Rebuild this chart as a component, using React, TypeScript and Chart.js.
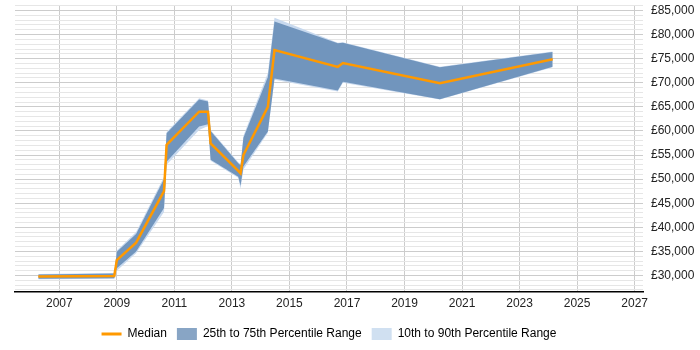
import { useEffect, useRef } from 'react';
import { Chart, registerables } from 'chart.js';

Chart.register(...registerables);

// Sample dates (decimal years) and salary percentiles at each date
const years = [2006.27, 2008.91, 2009.0, 2009.67, 2010.64, 2010.73, 2011.86, 2012.17, 2012.26, 2013.22, 2013.3, 2013.4, 2014.25, 2014.48, 2016.68, 2016.86, 2020.23, 2024.15];
const median = [29800, 29900, 33200, 36800, 47500, 57100, 64000, 64000, 57400, 51700, 51200, 55000, 65000, 76800, 73300, 74100, 69900, 74900];
const p75 = [30200, 30400, 34900, 38600, 50000, 59500, 66500, 66100, 60000, 53300, 52900, 58600, 71200, 82700, 78200, 78300, 73200, 76400];
const p25 = [29300, 29400, 31500, 35000, 44000, 53600, 60900, 61400, 54000, 50500, 48600, 52600, 59900, 70900, 68400, 70200, 66600, 73300];
const p90 = [30300, 30500, 35200, 39000, 50500, 59800, 66800, 66300, 60200, 53500, 53100, 59000, 72000, 83500, 78300, 78400, 73300, 76500];
const p10 = [29200, 29300, 31000, 34600, 43200, 53000, 60200, 61000, 53800, 50300, 48000, 52000, 59600, 70600, 68200, 70000, 66500, 73200];

const xTickYears = [2007, 2009, 2011, 2013, 2015, 2017, 2019, 2021, 2023, 2025, 2027];
const yGridValues = Array.from({ length: 60 }, (_, i) => 27000 + i * 1000);

const FONT = 'Arial, "Liberation Sans", sans-serif';
const MEDIAN_COLOR = '#ff9900';
const IQR_COLOR = '#7195bd';
const IQR_LEGEND = '#88a5c5';
const DECILE_COLOR = '#c8d9ee';
const DECILE_LEGEND = '#d0e0f1';

const points = (values: number[]) => values.map((v, i) => ({ x: years[i], y: v }));

const formatPounds = (v: number) => '£' + String(v).replace(/\B(?=(\d{3})+(?!\d))/g, ',');

// Centre the legend under the plot area rather than the whole canvas
const legendUnderPlot = {
  id: 'legendUnderPlot',
  afterLayout(chart: any) {
    if (chart.legend) {
      chart.legend.left = chart.chartArea.left;
      chart.legend.right = chart.chartArea.right;
    }
  },
};

export default function App() {
  const canvasRef = useRef<HTMLCanvasElement>(null);

  useEffect(() => {
    const canvas = canvasRef.current;
    if (!canvas) return;
    const band = { pointRadius: 0, borderWidth: 0, borderColor: 'transparent', tension: 0 };
    const chart = new Chart(canvas, {
      type: 'line',
      data: {
        datasets: [
          {
            label: 'Median',
            data: points(median),
            borderColor: MEDIAN_COLOR,
            borderWidth: 2.5,
            pointRadius: 0,
            fill: false,
            tension: 0,
          },
          { label: '25th to 75th Percentile Range', data: points(p75), backgroundColor: IQR_COLOR, fill: '+1', ...band },
          { label: '25th', data: points(p25), fill: false, ...band },
          { label: '10th to 90th Percentile Range', data: points(p90), backgroundColor: DECILE_COLOR, fill: '+1', ...band },
          { label: '10th', data: points(p10), fill: false, ...band },
        ],
      },
      plugins: [legendUnderPlot],
      options: {
        responsive: false,
        animation: false,
        layout: { padding: { left: 15, right: 0, top: 5, bottom: 0 } },
        plugins: {
          tooltip: { enabled: false },
          legend: {
            position: 'bottom',
            labels: {
              usePointStyle: true,
              pointStyleWidth: 20,
              boxHeight: 12,
              padding: 10,
              color: '#222',
              font: { family: FONT, size: 12, lineHeight: 1 },
              generateLabels: () => [
                { text: 'Median', pointStyle: 'line', strokeStyle: MEDIAN_COLOR, fillStyle: MEDIAN_COLOR, lineWidth: 3, lineCap: 'butt', hidden: false, datasetIndex: 0 },
                { text: '25th to 75th Percentile Range', pointStyle: 'rect', fillStyle: IQR_LEGEND, strokeStyle: 'transparent', lineWidth: 0, hidden: false, datasetIndex: 1 },
                { text: '10th to 90th Percentile Range', pointStyle: 'rect', fillStyle: DECILE_LEGEND, strokeStyle: 'transparent', lineWidth: 0, hidden: false, datasetIndex: 3 },
              ],
            },
          },
        },
        scales: {
          x: {
            type: 'linear',
            min: 2005.46,
            max: 2027.29,
            afterBuildTicks: (scale: any) => {
              scale.ticks = xTickYears.map((v) => ({ value: v }));
            },
            afterFit: (scale: any) => {
              scale.height = 26;
              scale.paddingLeft = 0;
              scale.paddingRight = 0;
            },
            ticks: {
              autoSkip: false,
              maxRotation: 0,
              padding: 4,
              color: '#222',
              font: { family: FONT, size: 12 },
              callback: (v: any) => String(v),
            },
            grid: { color: '#cccccc', drawTicks: false, lineWidth: 1 },
            border: { display: true, color: '#000000', width: 1.5 },
          },
          y: {
            position: 'right',
            min: 26570,
            max: 86140,
            afterBuildTicks: (scale: any) => {
              scale.ticks = yGridValues.map((v) => ({ value: v }));
            },
            afterFit: (scale: any) => {
              scale.width = 57;
              scale.paddingTop = 0;
              scale.paddingBottom = 0;
            },
            ticks: {
              autoSkip: false,
              padding: 8,
              color: '#222',
              font: { family: FONT, size: 12 },
              callback: (v: any) => (Number(v) % 5000 === 0 ? formatPounds(Number(v)) : ''),
            },
            grid: {
              drawTicks: false,
              lineWidth: 1,
              color: (ctx: any) => (ctx.tick && ctx.tick.value % 5000 === 0 ? '#cccccc' : '#e6e6e6'),
            },
            border: { display: false },
          },
        },
      },
    } as any);
    return () => chart.destroy();
  }, []);

  return (
    <div style={{ position: 'fixed', left: 0, top: 0, width: 700, height: 350, background: '#fff' }}>
      <canvas ref={canvasRef} width={700} height={350} style={{ width: 700, height: 350, display: 'block' }} />
    </div>
  );
}
